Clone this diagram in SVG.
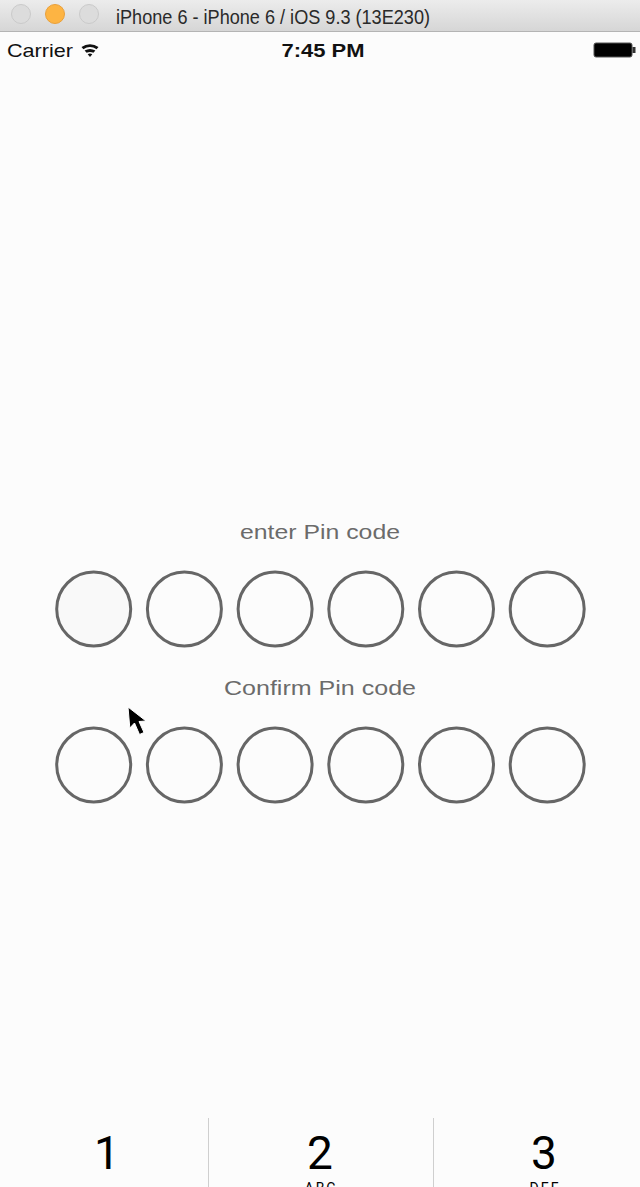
<svg xmlns="http://www.w3.org/2000/svg" width="640" height="1187" viewBox="0 0 640 1187">
<defs>
<linearGradient id="tb" x1="0" y1="0" x2="0" y2="1">
<stop offset="0" stop-color="#ececec"/>
<stop offset="1" stop-color="#d6d6d6"/>
</linearGradient>
<style>
.pin{fill:none;stroke:#666;stroke-width:3}
.lbl{font-family:"Liberation Sans",Arial,sans-serif;font-size:20px;fill:#6b6b6b;text-anchor:middle}
.dig{font-family:Roboto,"Liberation Sans",sans-serif;font-weight:400;font-size:46px;fill:#000;text-anchor:middle}
.sub{font-family:Roboto,"Liberation Sans",sans-serif;font-size:14px;fill:#000;text-anchor:middle;letter-spacing:2px}
.sep{stroke:#cfcfcf;stroke-width:1}
</style>
</defs>
<rect x="0" y="0" width="640" height="1187" fill="#fcfcfc"/>
<g id="titlebar">
<rect x="0" y="0" width="640" height="31" fill="url(#tb)"/>
<line x1="0" y1="31.5" x2="640" y2="31.5" stroke="#b4b4b4" stroke-width="1"/>
<circle cx="21" cy="14" r="9.5" fill="#dcdcdc" stroke="#cacaca"/>
<circle cx="55" cy="14" r="9.5" fill="#fdb443" stroke="#e9a03a"/>
<circle cx="89" cy="14" r="9.5" fill="#dcdcdc" stroke="#cacaca"/>
<text x="116" y="24" font-family="'Liberation Sans',Arial,sans-serif" font-size="21" fill="#2a2a2a" textLength="314" lengthAdjust="spacingAndGlyphs">iPhone 6 - iPhone 6 / iOS 9.3 (13E230)</text>
</g>
<g id="statusbar">
<text x="7" y="57" font-family="'Liberation Sans',Arial,sans-serif" font-size="19" fill="#111" textLength="66" lengthAdjust="spacingAndGlyphs">Carrier</text>
<g fill="#111">
<path d="M81.5,47 A15,15 0 0 1 98.5,47 L96.6,49.2 A12,12 0 0 0 83.4,49.2 Z"/>
<path d="M84.6,50.6 A10.5,10.5 0 0 1 95.4,50.6 L93.4,52.8 A7.5,7.5 0 0 0 86.6,52.8 Z"/>
<path d="M87.7,54.2 A5,5 0 0 1 92.3,54.2 L90,57 Z"/>
</g>
<text x="323" y="57" font-family="'Liberation Sans',Arial,sans-serif" font-size="18" font-weight="bold" fill="#111" text-anchor="middle" textLength="83" lengthAdjust="spacingAndGlyphs">7:45 PM</text>
<rect x="594" y="43" width="38" height="14" rx="2" fill="#000" stroke="#555" stroke-width="1"/>
<rect x="632.5" y="47" width="3" height="6" fill="#333"/>
</g>
<g id="enter">
<text class="lbl" x="320" y="539" textLength="160" lengthAdjust="spacingAndGlyphs">enter Pin code</text>
<circle class="pin" cx="93.7" cy="609" r="37" style="fill:#f9f9f9"/>
<circle class="pin" cx="184.4" cy="609" r="37"/>
<circle class="pin" cx="275.1" cy="609" r="37"/>
<circle class="pin" cx="365.8" cy="609" r="37"/>
<circle class="pin" cx="456.5" cy="609" r="37"/>
<circle class="pin" cx="547.2" cy="609" r="37"/>
</g>
<g id="confirm">
<text class="lbl" x="320" y="695" textLength="192" lengthAdjust="spacingAndGlyphs">Confirm Pin code</text>
<circle class="pin" cx="93.7" cy="765" r="37"/>
<circle class="pin" cx="184.4" cy="765" r="37"/>
<circle class="pin" cx="275.1" cy="765" r="37"/>
<circle class="pin" cx="365.8" cy="765" r="37"/>
<circle class="pin" cx="456.5" cy="765" r="37"/>
<circle class="pin" cx="547.2" cy="765" r="37"/>
</g>
<g id="cursor">
<path d="M128,707 L129.8,728 L134.5,723 L139.5,734.5 L144,732.5 L139,721.5 L146,721 Z" fill="#000" stroke="#fff" stroke-width="1" stroke-linejoin="round"/>
</g>
<g id="keypad">
<line class="sep" x1="208.5" y1="1118" x2="208.5" y2="1187"/>
<line class="sep" x1="433.5" y1="1118" x2="433.5" y2="1187"/>
<text class="dig" x="107" y="1169">1</text>
<text class="dig" x="320" y="1169">2</text>
<text class="dig" x="544" y="1169">3</text>
<text class="sub" x="321" y="1193">ABC</text>
<text class="sub" x="545" y="1193">DEF</text>
</g>
</svg>
